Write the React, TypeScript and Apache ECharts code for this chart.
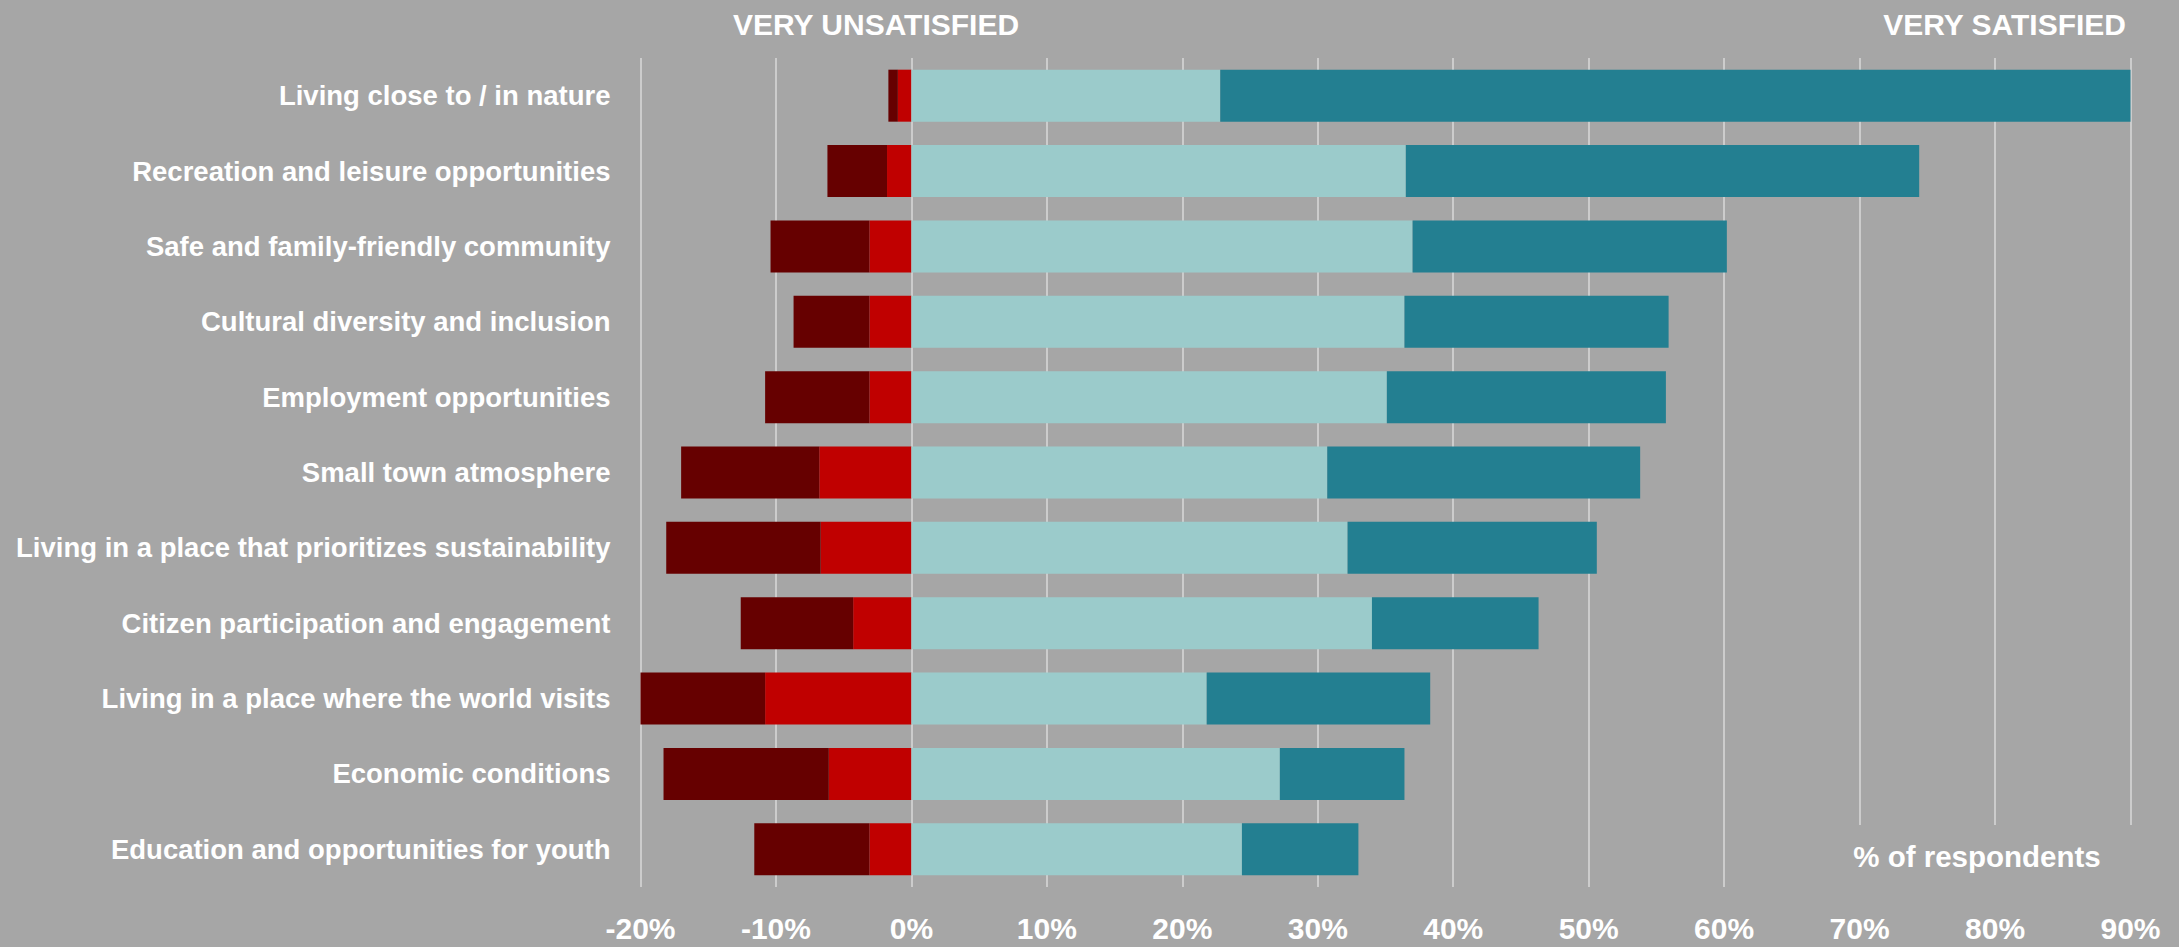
import React, { useEffect, useRef } from "react";
import * as echarts from "echarts";

const categories = [
  "Living close to / in nature",
  "Recreation and leisure opportunities",
  "Safe and family-friendly community",
  "Cultural diversity and inclusion",
  "Employment opportunities",
  "Small town atmosphere",
  "Living in a place that prioritizes sustainability",
  "Citizen participation and engagement",
  "Living in a place where the world visits",
  "Economic conditions",
  "Education and opportunities for youth",
];

// % of respondents (unsatisfied values drawn to the left of 0)
const unsatisfied = [1.0, 1.8, 3.1, 3.1, 3.1, 6.8, 6.7, 4.3, 10.8, 6.1, 3.1];
const veryUnsatisfied = [0.7, 4.4, 7.3, 5.6, 7.7, 10.2, 11.4, 8.3, 9.2, 12.2, 8.5];
const satisfied = [22.8, 36.5, 37.0, 36.4, 35.1, 30.7, 32.2, 34.0, 21.8, 27.2, 24.4];
const verySatisfied = [67.2, 37.9, 23.2, 19.5, 20.6, 23.1, 18.4, 12.3, 16.5, 9.2, 8.6];

const axisMin = -20;
const axisMax = 90;
const axisStep = 10;

const FONT = "'Liberation Sans Narrow', 'Liberation Sans', sans-serif";
const BG = "#A6A6A6";

export default function App() {
  const ref = useRef<HTMLDivElement>(null);

  useEffect(() => {
    if (!ref.current) return;
    const chart = echarts.init(ref.current, null, { renderer: "svg" });
    const barWidth = 52;
    const mk = (name: string, data: number[], color: string) => ({
      name,
      type: "bar",
      stack: "total",
      barWidth,
      data,
      itemStyle: { color },
      emphasis: { disabled: true },
    });
    chart.setOption({
      animation: false,
      backgroundColor: BG,
      grid: { left: 640.5, right: 48.5, top: 58, bottom: 60 },
      xAxis: {
        type: "value",
        min: axisMin,
        max: axisMax,
        interval: axisStep,
        axisLine: { show: false },
        axisTick: { show: false },
        splitLine: { show: true, lineStyle: { color: "#D9D9D9", width: 1.5 } },
        axisLabel: {
          color: "#FFFFFF",
          fontFamily: FONT,
          fontWeight: "bold",
          fontSize: 30,
          margin: 26,
          formatter: (v: number) => `${v}%`,
        },
      },
      yAxis: {
        type: "category",
        inverse: true,
        data: categories,
        axisLine: { show: false, onZero: false },
        axisTick: { show: false },
        splitLine: { show: false },
        axisLabel: {
          interval: 0,
          color: "#FFFFFF",
          fontFamily: FONT,
          fontWeight: "bold",
          fontSize: 27.5,
          margin: 30,
        },
      },
      graphic: [
        {
          type: "rect",
          shape: { x: 1835, y: 825, width: 344, height: 70 },
          style: { fill: BG },
          z: 10,
        },
        {
          type: "text",
          x: 876,
          y: 24,
          style: {
            text: "VERY UNSATISFIED",
            fill: "#FFFFFF",
            font: `bold 30px ${FONT}`,
            align: "center",
            verticalAlign: "middle",
          },
        },
        {
          type: "text",
          x: 2126,
          y: 24,
          style: {
            text: "VERY SATISFIED",
            fill: "#FFFFFF",
            font: `bold 30px ${FONT}`,
            align: "right",
            verticalAlign: "middle",
          },
        },
        {
          type: "text",
          x: 1977,
          y: 856,
          z: 11,
          style: {
            text: "% of respondents",
            fill: "#FFFFFF",
            font: `bold 29.5px ${FONT}`,
            align: "center",
            verticalAlign: "middle",
          },
        },
      ],
      series: [
        mk("Unsatisfied", unsatisfied.map((v) => -v), "#C00000"),
        mk("Very unsatisfied", veryUnsatisfied.map((v) => -v), "#660000"),
        mk("Satisfied", satisfied, "#9BCBCB"),
        mk("Very satisfied", verySatisfied, "#237F91"),
      ],
    });
    return () => chart.dispose();
  }, []);

  return (
    <div
      ref={ref}
      style={{ position: "fixed", left: 0, top: 0, width: 2179, height: 947 }}
    />
  );
}
